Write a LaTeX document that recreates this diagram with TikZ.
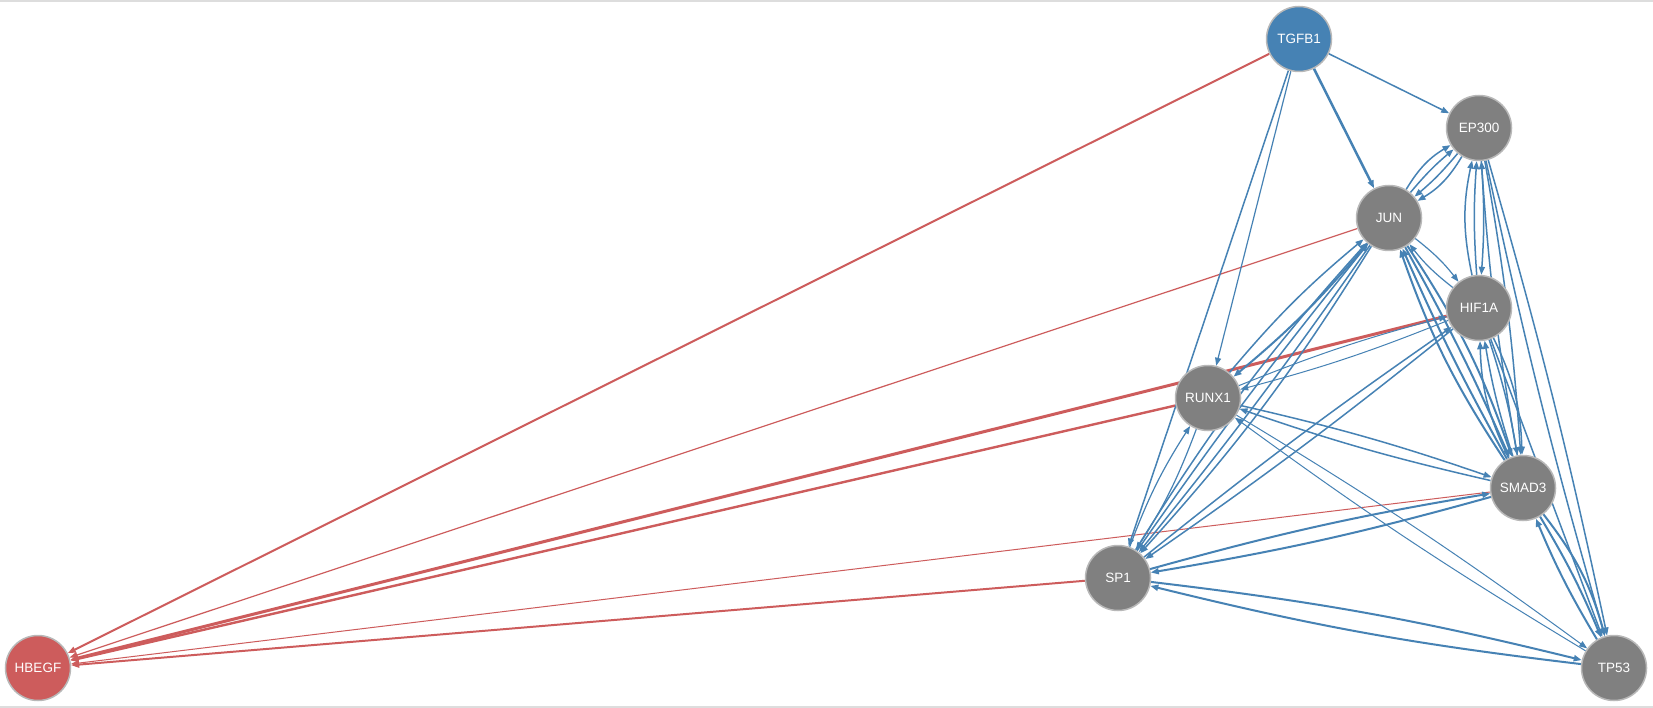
\documentclass[tikz,border=0pt]{standalone}
\usepackage{fontspec}
\setmainfont{Liberation Sans}
\usetikzlibrary{arrows.meta,backgrounds}
\definecolor{eblue}{HTML}{4682B4}
\definecolor{ered}{HTML}{CD5C5C}
\definecolor{ngray}{HTML}{808080}
\definecolor{nborder}{HTML}{B8B8B8}
\definecolor{framegray}{HTML}{DDDDDD}
\begin{document}
\begin{tikzpicture}[x=1pt,y=-1pt,
  gene/.style={circle, minimum size=65pt, inner sep=0pt, fill=ngray, draw=nborder, line width=1.5pt, text=white, font=\fontsize{13.5}{15}\selectfont},
  act/.style={draw=eblue, line width=1.5pt, -{Triangle[length=8pt,width=6pt]}},
  rep/.style={draw=ered, line width=1.5pt, -{Triangle[length=8pt,width=6pt]}},
]
\useasboundingbox (0,0) rectangle (1653,708);

\node[gene, fill=eblue] (TGFB1) at (1299,39) {TGFB1};
\node[gene] (EP300) at (1479,128) {EP300};
\node[gene] (JUN) at (1389,218) {JUN};
\node[gene] (HIF1A) at (1479,308) {HIF1A};
\node[gene] (RUNX1) at (1208,398) {RUNX1};
\node[gene] (SMAD3) at (1523,488) {SMAD3};
\node[gene] (SP1) at (1118,578) {SP1};
\node[gene] (TP53) at (1614,668) {TP53};
\node[gene, fill=ered] (HBEGF) at (38,668) {HBEGF};

\begin{scope}[on background layer]
\fill[white] (0,0) rectangle (1653,708);
\draw[framegray, line width=1.6pt] (0,0.8) -- (1653,0.8);
\draw[framegray, line width=1.6pt] (0,707.2) -- (1653,707.2);
% edges to HBEGF
\draw[rep, line width=2pt] (TGFB1) -- (HBEGF);
\draw[rep, line width=1.2pt] (JUN) -- (HBEGF);
\draw[rep, line width=3pt] (HIF1A) -- (HBEGF);
\draw[rep, line width=2.4pt] (RUNX1) -- (HBEGF);
\draw[rep, line width=1pt] (SMAD3) -- (HBEGF);
\draw[rep, line width=2pt] (SP1) -- (HBEGF);
% TGFB1
\draw[act] (TGFB1) -- (EP300);
\draw[act, line width=2.5pt] (TGFB1) -- (JUN);
\draw[act, line width=1.2pt] (TGFB1) -- (RUNX1);
\draw[act] (TGFB1) -- (SP1);
% JUN - EP300
\draw[act] (JUN) to[bend left=5] (EP300);
\draw[act] (JUN) to[bend left=14] (EP300);
\draw[act] (EP300) to[bend left=5] (JUN);
\draw[act] (EP300) to[bend left=14] (JUN);
% JUN - HIF1A
\draw[act, line width=1.2pt] (JUN) to[bend left=7] (HIF1A);
\draw[act, line width=1.2pt] (HIF1A) to[bend left=7] (JUN);
% JUN - SMAD3
\draw[act, line width=2pt] (JUN) to[bend left=2.6] (SMAD3);
\draw[act, line width=2pt] (JUN) to[bend left=7] (SMAD3);
\draw[act, line width=2pt] (SMAD3) to[bend left=2.6] (JUN);
\draw[act, line width=2pt] (SMAD3) to[bend left=7] (JUN);
% JUN - RUNX1
\draw[act, line width=2pt] (JUN) to[bend left=5] (RUNX1);
\draw[act] (RUNX1) to[bend left=5] (JUN);
% JUN - SP1
\draw[act] (JUN) to[bend left=2] (SP1);
\draw[act] (JUN) to[bend left=5] (SP1);
\draw[act] (SP1) to[bend left=2] (JUN);
\draw[act] (SP1) to[bend left=5] (JUN);
% EP300 - HIF1A
\draw[act] (EP300) to[bend left=4] (HIF1A);
\draw[act] (HIF1A) to[bend left=4] (EP300);
\draw[act] (HIF1A) to[bend left=12] (EP300);
% EP300 - SMAD3, TP53
\draw[act] (EP300) to[bend left=3] (SMAD3);
\draw[act] (SMAD3) to[bend left=3] (EP300);
\draw[act] (EP300) to[bend left=2] (TP53);
\draw[act] (EP300) to[bend right=2] (TP53);
% HIF1A - SMAD3, TP53
\draw[act] (HIF1A) to[bend left=4] (SMAD3);
\draw[act] (HIF1A) to[bend left=12] (SMAD3);
\draw[act] (SMAD3) to[bend left=4] (HIF1A);
\draw[act] (SMAD3) to[bend left=12] (HIF1A);
\draw[act] (HIF1A) -- (TP53);
% HIF1A - RUNX1, SP1
\draw[act, line width=1pt] (HIF1A) to[bend left=3.5] (RUNX1);
\draw[act, line width=1pt] (RUNX1) to[bend left=3.5] (HIF1A);
\draw[act] (HIF1A) to[bend left=2] (SP1);
\draw[act] (SP1) to[bend left=2] (HIF1A);
% RUNX1
\draw[act] (RUNX1) to[bend left=3] (SMAD3);
\draw[act] (SMAD3) to[bend left=3] (RUNX1);
\draw[act, line width=1pt] (RUNX1) to[bend left=2.5] (TP53);
\draw[act, line width=1pt] (TP53) to[bend left=2.5] (RUNX1);
\draw[act, line width=1.2pt] (RUNX1) to[bend left=6] (SP1);
\draw[act, line width=1.2pt] (SP1) to[bend left=6] (RUNX1);
% SP1
\draw[act, line width=2pt] (SP1) to[bend left=3] (SMAD3);
\draw[act, line width=2pt] (SMAD3) to[bend left=3] (SP1);
\draw[act, line width=2pt] (SP1) to[bend left=3.5] (TP53);
\draw[act, line width=2pt] (TP53) to[bend left=3.5] (SP1);
% SMAD3 - TP53
\draw[act, line width=2pt] (SMAD3) to[bend left=4] (TP53);
\draw[act, line width=2pt] (SMAD3) to[bend left=11] (TP53);
\draw[act, line width=2pt] (TP53) to[bend left=4] (SMAD3);
\end{scope}
\end{tikzpicture}
\end{document}
